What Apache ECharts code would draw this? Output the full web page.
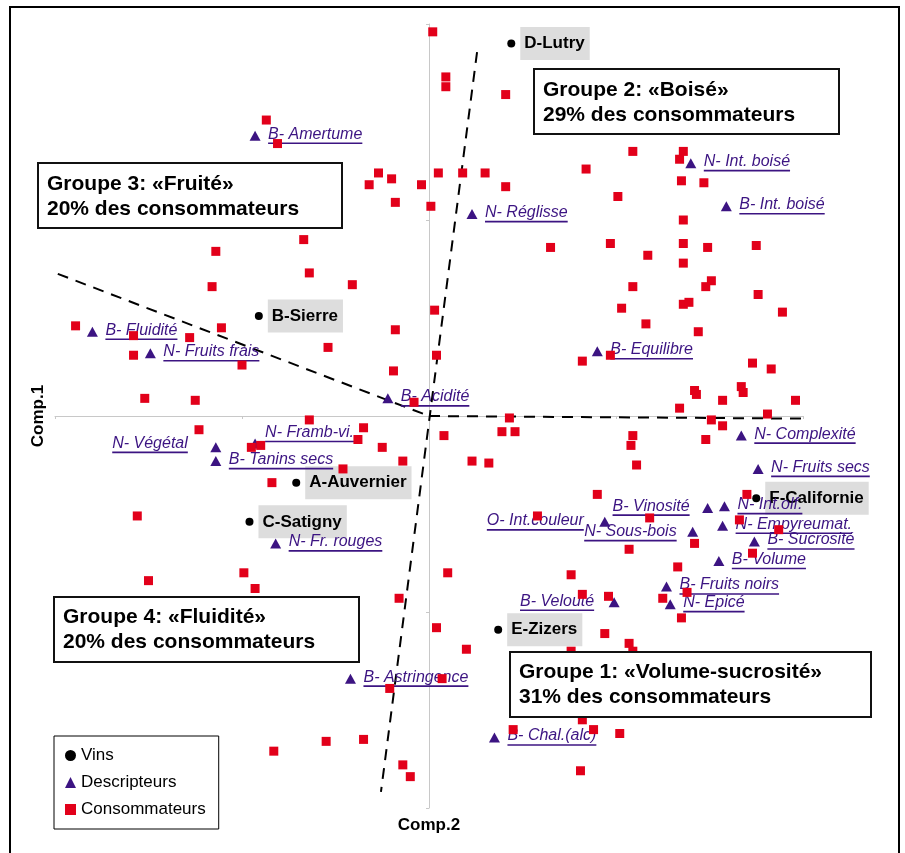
<!DOCTYPE html>
<html>
<head>
<meta charset="utf-8">
<script src="https://cdn.jsdelivr.net/npm/echarts@6/dist/echarts.min.js"></script>
<style>
html,body{margin:0;padding:0;background:#fff;}
#chart{width:905px;height:853px;}
</style>
</head>
<body>
<div id="chart"></div>
<script>
// ---------- DATA ----------
// Consommateurs (Comp.2 = x, Comp.1 = y)
const consX = [0.02,0.09,0.09,0.41,-0.87,-0.81,-0.27,-0.32,-0.20,-0.04,0.05,-0.18,0.01,0.18,0.30,0.41,1.09,1.36,1.34,1.35,
  1.47,0.84,1.01,1.36,0.65,0.97,1.17,1.36,1.49,1.75,1.36,1.09,1.51,1.48,1.76,-0.67,-1.14,-0.64,-1.16,-0.41,
  -1.89,-1.58,-1.28,-1.11,0.03,-0.18,-0.54,0.04,-1.58,-1.00,-0.19,-1.52,-1.25,-0.08,-0.64,-1.23,-0.35,-0.38,0.08,-0.95,
  -0.90,-0.25,-0.14,-0.46,-0.84,-1.56,-0.99,-1.50,0.10,-0.93,1.03,1.36,1.39,1.89,1.16,1.44,0.97,0.82,1.73,1.83,
  1.42,1.43,1.67,1.68,1.57,1.96,1.34,1.81,0.43,1.51,1.57,0.39,0.46,1.09,1.08,1.48,0.23,0.32,1.11,0.90,
  1.70,0.58,1.18,1.66,1.87,1.42,1.07,1.73,1.33,0.76,0.82,0.96,1.38,1.25,1.35,0.94,1.07,1.09,0.76,0.20,
  -0.16,0.04,0.07,-0.21,0.82,0.45,0.88,1.02,0.81,-0.83,-0.55,-0.35,-0.14,-0.10];
const consY = [1.96,1.73,1.68,1.64,1.51,1.39,1.24,1.18,1.21,1.18,1.24,1.09,1.07,1.24,1.24,1.17,1.35,1.35,1.31,1.20,
  1.19,1.26,1.12,1.00,0.86,0.88,0.82,0.88,0.86,0.87,0.78,0.66,0.69,0.66,0.62,0.90,0.84,0.73,0.66,0.67,
  0.46,0.41,0.40,0.45,0.54,0.44,0.35,0.31,0.31,0.26,0.23,0.09,0.08,0.07,-0.02,-0.07,-0.06,-0.12,-0.10,-0.16,
  -0.15,-0.16,-0.23,-0.27,-0.34,-0.51,-0.80,-0.84,-0.80,-0.88,0.55,0.57,0.58,0.53,0.47,0.43,0.31,0.28,0.27,0.24,
  0.13,0.11,0.15,0.12,0.08,0.08,0.04,0.01,-0.01,-0.02,-0.05,-0.08,-0.08,-0.10,-0.15,-0.12,-0.23,-0.24,-0.25,-0.40,
  -0.40,-0.51,-0.52,-0.53,-0.58,-0.65,-0.68,-0.70,-0.77,-0.81,-0.91,-0.92,-0.90,-0.93,-1.03,-1.11,-1.16,-1.20,-1.20,-1.19,
  -0.93,-1.08,-1.34,-1.39,-1.55,-1.60,-1.60,-1.62,-1.81,-1.71,-1.66,-1.65,-1.78,-1.84];

// Vins
const wineNames = ['A-Auvernier','B-Sierre','C-Satigny','D-Lutry','E-Zizers','F-Californie'];
const wineX = [-0.71,-0.91,-0.96,0.44,0.37,1.75];
const wineY = [-0.34,0.51,-0.54,1.90,-1.09,-0.42];

// Descripteurs
const descNames = ['B- Amertume','N- Int. boisé','B- Int. boisé','N- Réglisse','B- Fluidité','N- Fruits frais',
  'B- Equilibre','B- Acidité','N- Framb-vi.','N- Végétal','B- Tanins secs','N- Fr. rouges','N- Complexité',
  'N- Fruits secs','N- Int.olf.','B- Vinosité','O- Int.couleur','N- Sous-bois','N- Empyreumat.','B- Sucrosité',
  'B- Volume','B- Fruits noirs','N- Epicé','B- Velouté','B- Astringence','B- Chal.(alc)'];
const descX = [-0.93,1.40,1.59,0.23,-1.80,-1.49,0.90,-0.22,-0.93,-1.14,-1.14,-0.82,1.67,
  1.76,1.58,1.49,0.94,1.41,1.57,1.74,1.55,1.27,1.29,0.99,-0.42,0.35];
const descY = [1.43,1.29,1.07,1.03,0.43,0.32,0.33,0.09,-0.14,-0.16,-0.23,-0.65,-0.10,
  -0.27,-0.46,-0.47,-0.54,-0.59,-0.56,-0.64,-0.74,-0.87,-0.96,-0.95,-1.34,-1.64];

// Dashed separation lines
const sepLine1 = [[-2.08,0.76],[0,0]];
const sepLine2 = [[0.257,1.857],[-0.257,-1.918]];
const sepLine3 = [[0,0],[2.235,-0.015]];

// Group boxes text
const groupTexts = [
  'Groupe 3: «Fruité»\n20% des consommateurs',
  'Groupe 2: «Boisé»\n29% des consommateurs',
  'Groupe 4: «Fluidité»\n20% des consommateurs',
  'Groupe 1: «Volume-sucrosité»\n31% des consommateurs'
];
const legendNames = ['Vins','Descripteurs','Consommateurs'];
const axisTitles = ['Comp.1','Comp.2'];

// ---------- LAYOUT / STYLE ----------
const FONT = '"Liberation Sans", Arial, sans-serif';
const PURPLE = '#3c1482';
const RED = '#e2001a';
const labelPlace = { // side, dx, dy (text anchor relative to marker)
  'N- Framb-vi.': ['right',10,-11],
  'N- Végétal': ['left',-28,-4],
  'B- Vinosité': ['left',-18,-2],
  'O- Int.couleur': ['left',-21,-1],
  'N- Sous-bois': ['left',-16,0],
  'B- Velouté': ['left',-20,-1]
};
const groupBoxes = [
  {x:38,y:163,w:304,h:65,tx:47,ty:171.5},
  {x:534,y:69,w:305,h:65,tx:543,ty:77.5},
  {x:54,y:597,w:305,h:65,tx:63,ty:604.5},
  {x:510,y:652,w:361,h:65,tx:519,ty:659.5}
];

const measureCtx = document.createElement('canvas').getContext('2d');
const DESC_FONT = 'italic 16px ' + FONT;
measureCtx.font = DESC_FONT;

const chart = echarts.init(document.getElementById('chart'), null, {renderer:'canvas'});

const axisCommon = {
  type:'value', min:-2, max:2, interval:1,
  axisLine:{show:true, onZero:true, lineStyle:{color:'#c8c8c8', width:1}},
  axisTick:{show:true, length:3, lineStyle:{color:'#c8c8c8'}},
  axisLabel:{show:false}, splitLine:{show:false}
};

const graphics = [];
groupBoxes.forEach((b,i)=>{
  graphics.push({type:'rect', z:100, shape:{x:b.x,y:b.y,width:b.w,height:b.h},
    style:{fill:'#fff', stroke:'#111', lineWidth:2}});
  graphics.push({type:'text', z:101, x:b.tx, y:b.ty,
    style:{text:groupTexts[i], font:'bold 21px '+FONT, fill:'#000', lineHeight:25,
      textVerticalAlign:'top', verticalAlign:'top'}});
});
graphics.push({type:'text', z:101, x:38, y:416, rotation:Math.PI/2,
  style:{text:axisTitles[0], font:'bold 17px '+FONT, fill:'#000',
    textAlign:'center', align:'center', textVerticalAlign:'middle', verticalAlign:'middle'}});
graphics.push({type:'text', z:101, x:429, y:825,
  style:{text:axisTitles[1], font:'bold 17px '+FONT, fill:'#000',
    textAlign:'center', align:'center', textVerticalAlign:'middle', verticalAlign:'middle'}});
graphics.push({type:'rect', z:102, shape:{x:10,y:7,width:889,height:900},
  style:{fill:'none', stroke:'#000', lineWidth:2}});

const dashStyle = {color:'#000', width:2, type:[11,8], opacity:1};
const sepSeries = [sepLine1, sepLine2, sepLine3].map((d,i)=>({
  type:'line', name:'sep'+i, data:d, symbol:'none', clip:false, silent:true, z:1,
  lineStyle:dashStyle, animation:false
}));

chart.setOption({
  animation:false,
  backgroundColor:'#fff',
  grid:{left:55, right:102, top:24, bottom:45},
  xAxis:axisCommon,
  yAxis:axisCommon,
  legend:{
    data:[{name:'Vins',icon:'circle'},{name:'Descripteurs',icon:'triangle'},{name:'Consommateurs',icon:'rect'}],
    orient:'vertical', left:54, top:736, padding:[11,13,11,11], itemGap:10,
    itemWidth:11, itemHeight:11, borderColor:'#000', borderWidth:1, backgroundColor:'#fff',
    textStyle:{fontFamily:FONT, fontSize:17, lineHeight:17, color:'#000'},
    selectedMode:false, z:50
  },
  graphic:graphics,
  series:[
    ...sepSeries,
    {
      type:'scatter', name:'Vins', symbol:'circle', symbolSize:8, z:2,
      itemStyle:{color:'#000', opacity:1},
      data: wineX.map((x,i)=>({name:wineNames[i], value:[x, wineY[i]]})),
      label:{show:true, position:'right', distance:5, formatter:'{b}',
        fontFamily:FONT, fontWeight:'bold', fontSize:17, lineHeight:17, color:'#000',
        backgroundColor:'#dddddd', padding:[8,5,8,4]}
    },
    {
      type:'custom', name:'descLabels', coordinateSystem:'cartesian2d', clip:false, z:3, silent:true,
      data: descX.map((x,i)=>[x, descY[i]]),
      renderItem:(params, api)=>{
        const p = api.coord([api.value(0), api.value(1)]);
        const name = descNames[params.dataIndex];
        const pl = labelPlace[name] || ['right',13,-1.5];
        const w = measureCtx.measureText(name).width;
        const left = pl[0]==='right' ? p[0]+pl[1] : p[0]+pl[1]-w;
        const cy = p[1]+pl[2];
        return {type:'group', children:[
          {type:'text', x:left, y:cy, style:{text:name, font:DESC_FONT, fill:PURPLE,
            textAlign:'left', align:'left', textVerticalAlign:'middle', verticalAlign:'middle'}},
          {type:'line', shape:{x1:left, y1:cy+9, x2:left+w, y2:cy+9},
            style:{stroke:PURPLE, lineWidth:1.6}}
        ]};
      }
    },
    {
      type:'scatter', name:'Descripteurs', symbol:'triangle', symbolSize:[11,10], z:4,
      itemStyle:{color:PURPLE, opacity:1},
      data: descX.map((x,i)=>[x, descY[i]])
    },
    {
      type:'scatter', name:'Consommateurs', symbol:'rect', symbolSize:9, z:5,
      itemStyle:{color:RED, opacity:1},
      data: consX.map((x,i)=>[x, consY[i]])
    }
  ]
});
</script>
</body>
</html>
